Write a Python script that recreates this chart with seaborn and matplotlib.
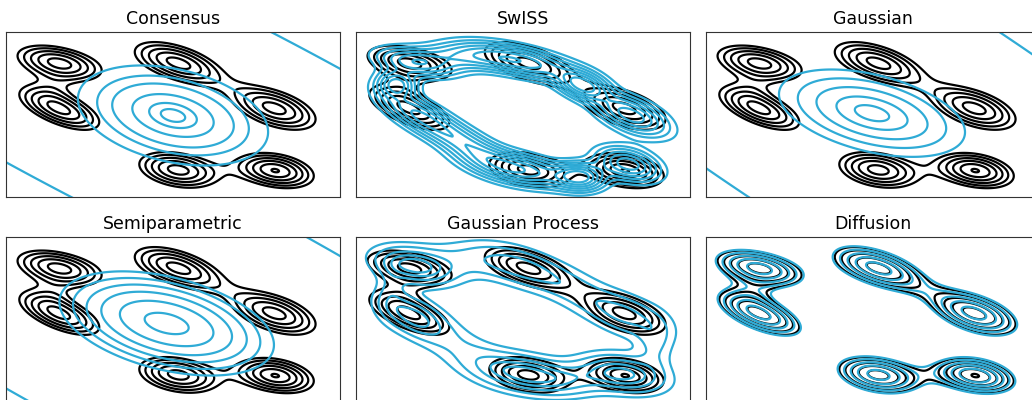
import matplotlib
matplotlib.use('Agg')
import matplotlib.pyplot as plt
import seaborn as sns
import numpy as np

# panel titles in reading order
titles = ["Consensus", "SwISS", "Gaussian", "Semiparametric", "Gaussian Process", "Diffusion"]

# reference density (black): six tilted blobs plus a faint bridge between the left pair,
# (x, y, sd_major, sd_minor, angle, peak)
ref_parts = [
    (1.60, 4.06, 1.00, 0.37, -12, 0.94),
    (1.60, 2.68, 1.00, 0.37, -22, 0.94),
    (5.15, 4.06, 1.05, 0.40, -18, 0.94),
    (8.05, 2.68, 1.00, 0.42, -18, 0.94),
    (5.15, 0.82, 0.92, 0.40, -10, 0.94),
    (8.07, 0.80, 0.88, 0.38, -10, 1.00),
    (1.50, 3.37, 0.45, 0.30, 0, 0.10),
]
ref_levels = [0.42, 0.53, 0.65, 0.77, 0.89, 0.995]

# model estimates (blue)
consensus_parts = [(5.00, 2.47, 1.20, 0.58, -13, 1.0), (5.00, 2.47, 9.0, 1.6, -27, 0.003)]
consensus_levels = [0.00024, 0.056, 0.158, 0.305, 0.588, 0.835, 0.956]

swiss_parts = [
    (1.80, 4.08, 0.78, 0.26, -10, 0.65),
    (1.22, 3.42, 0.38, 0.26, -10, 0.75),
    (1.85, 2.50, 0.82, 0.30, -28, 0.65),
    (3.30, 1.60, 0.95, 0.30, -28, 0.55),
    (4.85, 0.85, 1.00, 0.30, -12, 0.8),
    (6.70, 0.62, 0.48, 0.26, -5, 0.9),
    (8.15, 1.00, 0.62, 0.30, -15, 0.8),
    (8.25, 2.47, 0.75, 0.32, -22, 0.8),
    (6.80, 3.38, 0.52, 0.26, -18, 0.9),
    (4.90, 4.12, 1.10, 0.28, -12, 0.8),
    (3.20, 4.25, 0.85, 0.26, -5, 0.4),
]
swiss_levels = [0.12, 0.21, 0.31, 0.43, 0.56, 0.70, 0.85]

gaussian_parts = [(4.97, 2.54, 1.18, 0.48, -14, 1.0), (4.97, 2.54, 9.0, 1.85, -33, 0.003)]
gaussian_levels = [0.00024, 0.056, 0.158, 0.355, 0.655, 0.908]

semi_parts = [(4.81, 2.38, 1.36, 0.58, -14, 1.0), (4.86, 2.50, 9.0, 1.86, -28, 0.003)]
semi_levels = [0.00024, 0.056, 0.11, 0.198, 0.34, 0.576, 0.887]

gp_parts = [
    (1.75, 4.12, 0.78, 0.34, -12, 1.0),
    (1.70, 2.60, 0.72, 0.36, -25, 0.8),
    (5.00, 4.05, 1.00, 0.38, -18, 0.6),
    (8.10, 2.63, 0.88, 0.40, -20, 0.6),
    (5.05, 0.86, 1.00, 0.36, -10, 0.95),
    (8.00, 0.86, 0.82, 0.36, -10, 0.95),
    (3.30, 4.30, 1.00, 0.36, -5, 0.3),
    (6.60, 3.35, 0.80, 0.38, -25, 0.3),
    (3.20, 1.60, 1.10, 0.42, -28, 0.3),
    (6.50, 0.70, 0.80, 0.33, 0, 0.35),
    (8.95, 1.70, 0.36, 0.55, 0, 0.3),
    (1.05, 3.40, 0.28, 0.50, 0, 0.25),
]
gp_levels = [0.17, 0.33, 0.55, 0.75, 0.92]

diffusion_parts = [(x, y, a * 1.04, b * 1.04, ang, h) for x, y, a, b, ang, h in ref_parts]
diffusion_levels = ref_levels[:-1]

blue_parts = [consensus_parts, swiss_parts, gaussian_parts, semi_parts, gp_parts, diffusion_parts]
blue_levels = [consensus_levels, swiss_levels, gaussian_levels, semi_levels, gp_levels, diffusion_levels]

BLUE = '#2fabd6'


def mixture(parts, gx, gy):
    z = np.zeros_like(gx)
    for x0, y0, sa, sb, ang, amp in parts:
        t = np.deg2rad(ang)
        dx, dy = gx - x0, gy - y0
        u = dx * np.cos(t) + dy * np.sin(t)
        v = -dx * np.sin(t) + dy * np.cos(t)
        z += amp * np.exp(-0.5 * ((u / sa) ** 2 + (v / sb) ** 2))
    return z


sns.set_style('white', {'axes.edgecolor': '.2', 'text.color': 'black'})
fig = plt.figure(figsize=(10.32, 4.0), dpi=100)

gx, gy = np.meshgrid(np.linspace(-0.5, 10.5, 440), np.linspace(-0.5, 5.5, 240))
ref_z = mixture(ref_parts, gx, gy)

lefts = [6, 356, 706]
tops = [32, 237]
for i, title in enumerate(titles):
    row, col = divmod(i, 3)
    ax = fig.add_axes([lefts[col] / 1032, 1 - (tops[row] + 165) / 400, 334 / 1032, 165 / 400])
    ax.contour(gx, gy, ref_z, levels=ref_levels, colors='black', linewidths=1.6)
    ax.contour(gx, gy, mixture(blue_parts[i], gx, gy), levels=blue_levels[i],
               colors=BLUE, linewidths=1.6)
    ax.set_xlim(0, 10)
    ax.set_ylim(0, 5)
    ax.set_xticks([])
    ax.set_yticks([])
    ax.set_title(title, fontsize=12.5)

fig.savefig('out.png', dpi=100)
